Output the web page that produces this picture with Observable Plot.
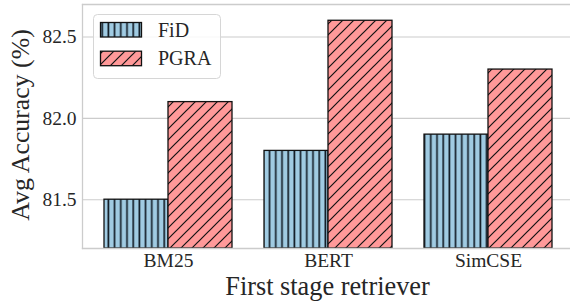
<!DOCTYPE html>
<html>
<head>
<meta charset="utf-8">
<script src="https://cdn.jsdelivr.net/npm/d3@7"></script>
<script src="https://cdn.jsdelivr.net/npm/@observablehq/plot@0.6"></script>
<style>
  html, body { margin: 0; padding: 0; background: white; }
  #chart { width: 570px; height: 303px; position: relative; }
  #chart svg text { font-family: "Liberation Serif", "Times New Roman", serif; }
</style>
</head>
<body>
<div id="chart"></div>
<script>
const categories = ["BM25", "BERT", "SimCSE"];
const fidValues = [81.5, 81.8, 81.9];
const pgraValues = [82.1, 82.6, 82.3];
const seriesNames = ["FiD", "PGRA"];
const yTicks = [81.5, 82.0, 82.5];
const yDomain = [81.2, 82.7];
const yLabel = "Avg Accuracy (%)";
const xLabel = "First stage retriever";

const data = categories.flatMap((c, i) => [
  {category: c, series: seriesNames[0], value: fidValues[i]},
  {category: c, series: seriesNames[1], value: pgraValues[i]}
]);

const W = 570, H = 303, ML = 82, MR = 0, MT = 4, MB = 55;
const padIn = 0.2, padOut = 0.125;
const step = (W - ML - MR) / (categories.length - padIn + 2 * padOut);
const half = step * (1 - padIn) / 2;

const font = "Liberation Serif";
const fillIds = {FiD: "url(#hatch-fid)", PGRA: "url(#hatch-pgra)"};

const chart = Plot.plot({
  width: W, height: H,
  marginLeft: ML, marginRight: MR, marginTop: MT, marginBottom: MB,
  style: {fontFamily: font, fontSize: "19.5px", color: "#262626", background: "white"},
  x: {domain: categories, paddingInner: padIn, paddingOuter: padOut, align: 0.56, label: null},
  y: {domain: yDomain, label: null},
  marks: [
    Plot.gridY(yTicks, {stroke: "#cccccc", strokeOpacity: 1, strokeWidth: 1.1}),
    Plot.barY(data.filter(d => d.series === seriesNames[0]), {
      x: "category", y1: yDomain[0], y2: "value",
      fill: fillIds.FiD, stroke: "#111", strokeWidth: 1.3, insetRight: half
    }),
    Plot.barY(data.filter(d => d.series === seriesNames[1]), {
      x: "category", y1: yDomain[0], y2: "value",
      fill: fillIds.PGRA, stroke: "#111", strokeWidth: 1.3, insetLeft: half
    }),
    Plot.frame({anchor: "left", stroke: "#cccccc", strokeWidth: 1.3}),
    Plot.frame({anchor: "top", stroke: "#cccccc", strokeWidth: 1.3}),
    Plot.frame({anchor: "bottom", stroke: "#cccccc", strokeWidth: 1.3}),
    Plot.axisY(yTicks, {tickSize: 0, tickPadding: 6, tickFormat: d => d.toFixed(1), label: null, fontSize: 19.5, fontFamily: font}),
    Plot.axisX({tickSize: 0, tickPadding: 5, label: null, fontSize: 19.5, fontFamily: font})
  ]
});

const svg = d3.select(chart);
const defs = svg.insert("defs", ":first-child");
const pf = defs.append("pattern").attr("id", "hatch-fid")
  .attr("patternUnits", "userSpaceOnUse").attr("width", 6.2).attr("height", 10);
pf.append("rect").attr("width", 6.2).attr("height", 10).attr("fill", "#a0cbe2");
pf.append("line").attr("x1", 3).attr("x2", 3).attr("y1", -1).attr("y2", 11)
  .attr("stroke", "#15202a").attr("stroke-width", 1.7);
const pp = defs.append("pattern").attr("id", "hatch-pgra")
  .attr("patternUnits", "userSpaceOnUse").attr("width", 11).attr("height", 11);
pp.append("rect").attr("width", 11).attr("height", 11).attr("fill", "#ff9999");
pp.append("path").attr("d", "M-1,1 L1,-1 M0,11 L11,0 M10,12 L12,10")
  .attr("stroke", "#111").attr("stroke-width", 1.2);

// axis titles
svg.append("text").attr("transform", "translate(29,125) rotate(-90)")
  .attr("text-anchor", "middle").attr("font-family", font).attr("font-size", 25.8)
  .attr("fill", "#262626").text(yLabel);
svg.append("text").attr("x", 327.5).attr("y", 295)
  .attr("text-anchor", "middle").attr("font-family", font).attr("font-size", 26.3)
  .attr("fill", "#262626").text(xLabel);

// legend
const lg = svg.append("g").attr("text-anchor", "start");
lg.append("rect").attr("x", 93.5).attr("y", 14.5).attr("width", 127).attr("height", 64)
  .attr("rx", 4).attr("fill", "white").attr("fill-opacity", 0.85)
  .attr("stroke", "#d6d6d6").attr("stroke-width", 1);
seriesNames.forEach((s, i) => {
  const y0 = 22.5 + i * 28.7;
  lg.append("rect").attr("x", 100.5).attr("y", y0).attr("width", 41).attr("height", 14.5)
    .attr("fill", fillIds[s]).attr("stroke", "#111").attr("stroke-width", 1.3);
  lg.append("text").attr("x", 158).attr("y", y0 + 14).attr("text-anchor", "start")
    .attr("font-family", font).attr("font-size", 20).attr("fill", "#262626").text(s);
});

document.getElementById("chart").appendChild(chart);
</script>
</body>
</html>
